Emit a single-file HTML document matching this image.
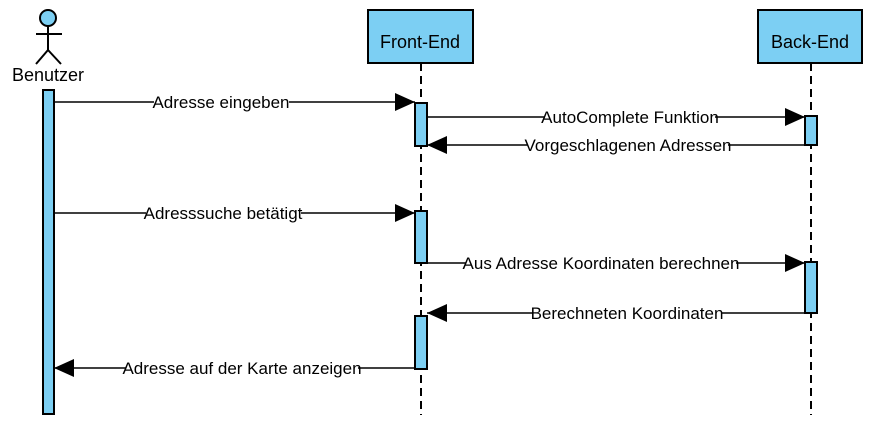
<!DOCTYPE html>
<html><head><meta charset="utf-8"><style>
html,body{margin:0;padding:0;background:#fff;width:884px;height:448px;overflow:hidden}
text{font-family:"Liberation Sans",Arial,sans-serif;font-size:17px;fill:#000}
</style></head><body>
<svg width="884" height="448" viewBox="0 0 884 448" xmlns="http://www.w3.org/2000/svg">
<defs><marker id="a" markerWidth="20" markerHeight="18" refX="20" refY="9" orient="auto" markerUnits="userSpaceOnUse"><path d="M0,0 L20,9 L0,18 Z" fill="#000"/></marker></defs>
<g stroke="#000" stroke-width="2" fill="none">
<circle cx="48" cy="18" r="8" fill="#7ccff3"/>
<line x1="48" y1="26" x2="48" y2="50"/><line x1="36" y1="34" x2="62" y2="34"/>
<line x1="48" y1="50" x2="36" y2="64"/><line x1="48" y1="50" x2="61" y2="64"/>
<line x1="421" y1="63" x2="421" y2="415" stroke-dasharray="8,5"/>
<line x1="811" y1="63" x2="811" y2="415" stroke-dasharray="8,5"/>
</g>
<g stroke="#000" stroke-width="2" fill="#7ccff3">
<rect x="43" y="90" width="11" height="324"/>
<rect x="368" y="10" width="105" height="53"/>
<rect x="758" y="10" width="104" height="53"/>
<rect x="415" y="103" width="12" height="43"/>
<rect x="415" y="211" width="12" height="52"/>
<rect x="415" y="316" width="12" height="53"/>
<rect x="805" y="116" width="12" height="29"/>
<rect x="805" y="262" width="12" height="51"/>
</g>
<text x="48" y="81" text-anchor="middle" style="font-size:18px">Benutzer</text>
<text x="420" y="48" text-anchor="middle" style="font-size:18px">Front-End</text>
<text x="810" y="48" text-anchor="middle" style="font-size:18px">Back-End</text>
<g stroke="#000" stroke-width="1.5" marker-end="url(#a)">
<line x1="54" y1="102" x2="415" y2="102"/>
<line x1="427" y1="117" x2="805" y2="117"/>
<line x1="805" y1="145" x2="427" y2="145"/>
<line x1="54" y1="213" x2="415" y2="213"/>
<line x1="427" y1="263" x2="805" y2="263"/>
<line x1="805" y1="313" x2="427" y2="313"/>
<line x1="415" y1="368" x2="54" y2="368"/>
</g>
<g>
<rect x="154" y="93" width="135" height="18" fill="#fff"/><text x="221" y="108" text-anchor="middle">Adresse eingeben</text>
<rect x="545" y="108" width="170" height="18" fill="#fff"/><text x="630" y="123" text-anchor="middle">AutoComplete Funktion</text>
<rect x="528" y="136" width="200" height="18" fill="#fff"/><text x="628" y="151" text-anchor="middle">Vorgeschlagenen Adressen</text>
<rect x="146" y="204" width="155" height="18" fill="#fff"/><text x="223" y="219" text-anchor="middle">Adresssuche betätigt</text>
<rect x="466" y="254" width="270" height="18" fill="#fff"/><text x="601" y="269" text-anchor="middle">Aus Adresse Koordinaten berechnen</text>
<rect x="533" y="304" width="188" height="18" fill="#fff"/><text x="627" y="319" text-anchor="middle">Berechneten Koordinaten</text>
<rect x="126" y="359" width="232" height="18" fill="#fff"/><text x="242" y="374" text-anchor="middle">Adresse auf der Karte anzeigen</text>
</g>
</svg>
</body></html>
